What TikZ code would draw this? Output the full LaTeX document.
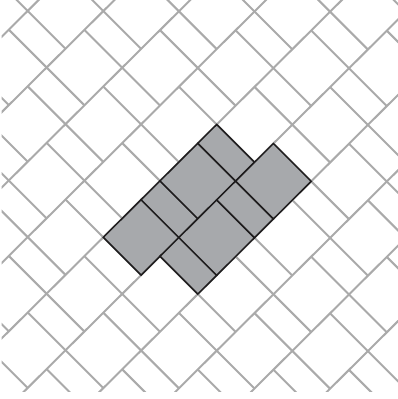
\documentclass[tikz,border=0pt]{standalone}
\definecolor{lg}{RGB}{170,170,170}
\definecolor{tilefill}{RGB}{167,169,172}
\definecolor{edge}{RGB}{30,28,29}
\tikzset{
  gridline/.style={draw=lg, line width=2pt, line cap=butt},
  piece/.style={fill=tilefill, draw=edge, line width=1.5pt, line join=miter}
}
\begin{document}
\begin{tikzpicture}[x=1pt,y=1pt]
\useasboundingbox (0,0) rectangle (398,399);
\begin{scope}
\clip (1.5,7) rectangle (398,399);
\begin{scope}[shift={(103.3,161.7)}, x={(18.9pt,18.8pt)}, y={(18.9pt,-18.9pt)}]
\foreach \r in {-6,...,7} {
  \draw[gridline] (-16,2*\r) -- (22,2*\r);
  \foreach \k in {-10,...,10} {
    \pgfmathsetmacro\aa{2*\r+3*\k}
    \pgfmathsetmacro\ab{2*\r+3*\k+2}
    \draw[gridline] (\aa,2*\r) -- (\aa,2*\r+2);
    \draw[gridline] (\ab,2*\r) -- (\ab,2*\r+2);
  }
}
\foreach \ax/\ay/\bx/\by in {0/0/2/2, 2/0/3/2, 3/0/5/2, 5/0/6/2, 1/2/2/4, 2/2/4/4, 4/2/5/4, 5/2/7/4} {
  \filldraw[piece] (\ax,\ay) -- (\bx,\ay) -- (\bx,\by) -- (\ax,\by) -- cycle;
}
\end{scope}
\end{scope}
\end{tikzpicture}
\end{document}
